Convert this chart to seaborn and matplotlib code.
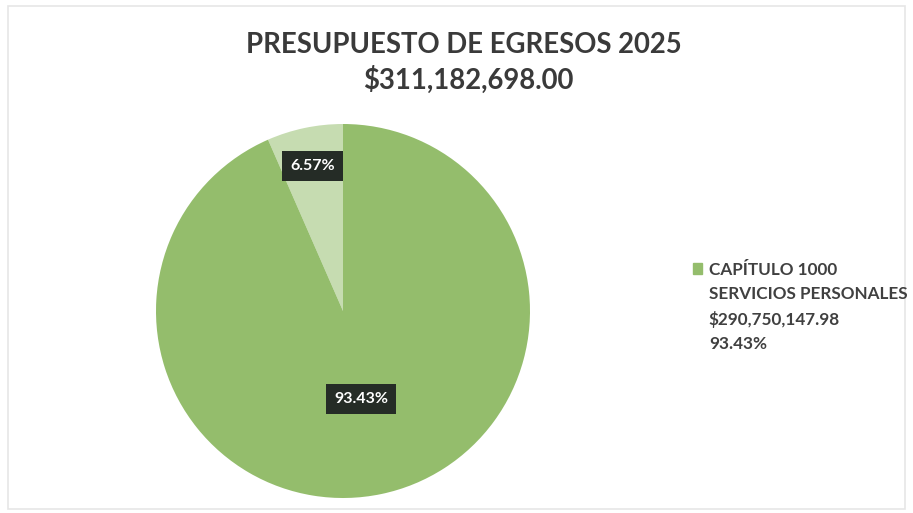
import matplotlib
matplotlib.use("Agg")
import matplotlib.pyplot as plt
import matplotlib.patches as mpatches
import numpy as np
import seaborn as sns

# data
title_lines = ["PRESUPUESTO DE EGRESOS 2025", "$311,182,698.00"]
categories = ["OTROS CAPÍTULOS", "CAPÍTULO 1000 SERVICIOS PERSONALES"]
amounts = [20432550.02, 290750147.98]
legend_lines = ["CAPÍTULO 1000", "SERVICIOS PERSONALES", "$290,750,147.98", "93.43%"]

sns.set_theme(style="white")
plt.rcParams["font.family"] = ["Lato", "DejaVu Sans"]

colors = ["#c6dcb1", "#94bd6c"]
label_dist = [0.79, 0.48]

fig = plt.figure(figsize=(9.13, 5.13), dpi=100)
fig.patch.set_facecolor("white")

# faint scan border
fig.add_artist(mpatches.Rectangle((8 / 913, 4 / 513), 897 / 913, 503 / 513,
                                  transform=fig.transFigure, fill=False,
                                  edgecolor="#e6e6e6", linewidth=1.2))

cx, cy, r = 343, 311, 187
ax = fig.add_axes([(cx - r) / 913, (513 - cy - r) / 513, 2 * r / 913, 2 * r / 513])
wedges, texts, autotexts = ax.pie(amounts, colors=colors, startangle=90, counterclock=True,
                                  autopct="%.2f%%", radius=1,
                                  wedgeprops=dict(linewidth=0))
ax.set_xlim(-1, 1)
ax.set_ylim(-1, 1)
ax.set_aspect("equal")
ax.axis("off")

for w, t, d in zip(wedges, autotexts, label_dist):
    ang = np.deg2rad((w.theta1 + w.theta2) / 2)
    t.set_position((d * np.cos(ang), d * np.sin(ang)))
    t.set_color("white")
    t.set_fontsize(11.5)
    t.set_fontweight("bold")
    t.set_bbox(dict(boxstyle="square,pad=0.5", facecolor="#252c26", edgecolor="none"))

fig.text(464 / 913, 1 - 45 / 513, title_lines[0], ha="center", va="center",
         fontsize=19.8, fontweight="bold", color="#3a3a3a")
fig.text(468 / 913, 1 - 80 / 513, title_lines[1], ha="center", va="center",
         fontsize=19.8, fontweight="bold", color="#3a3a3a")

handles = [mpatches.Patch(color=colors[1])] + [mpatches.Patch(alpha=0) for _ in legend_lines[1:]]
leg = fig.legend(handles, legend_lines, loc="center left",
                 bbox_to_anchor=(684 / 913, 1 - 307 / 513), frameon=False,
                 fontsize=12.3, handlelength=0.55, handleheight=0.55, handletextpad=0.4,
                 labelspacing=0.5, borderpad=0)
for t in leg.get_texts():
    t.set_fontweight("bold")
    t.set_color("#404040")

fig.savefig("out.png", dpi=100, facecolor="white")
